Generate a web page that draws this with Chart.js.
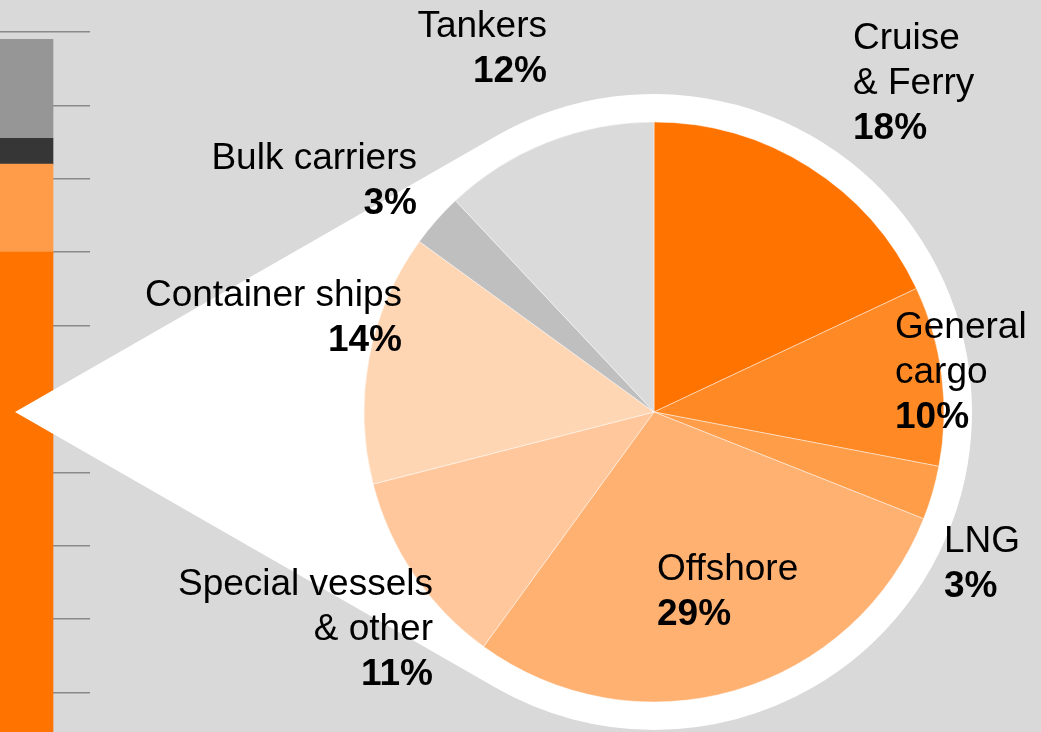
<!DOCTYPE html>
<html>
<head>
<meta charset="utf-8">
<script src="https://cdn.jsdelivr.net/npm/chart.js@4/dist/chart.umd.min.js"></script>
<style>
  html, body { margin: 0; padding: 0; background: #d9d9d9; overflow: hidden; }
  body { width: 1041px; height: 732px; position: relative; }
  #bar-chart { position: absolute; left: -37px; top: 0; }
  #pie-chart { position: absolute; left: 0; top: 0; }
</style>
</head>
<body>
<canvas id="bar-chart" width="127" height="766"></canvas>
<canvas id="pie-chart" width="1041" height="732"></canvas>
<script>
// stacked column (bottom to top)
const barSegments = ["Shipbuilding", "Repair", "Other", "Services"];
const barValues = [70, 12, 3.5, 13.5];
const barColors = ['#ff7300', '#ff9c4a', '#363636', '#969696'];

// pie breakdown, clockwise from 12 o'clock
const categories = [
    ['Cruise', '& Ferry'],
    ['General', 'cargo'],
    ['LNG'],
    ['Offshore'],
    ['Special vessels', '& other'],
    ['Container ships'],
    ['Bulk carriers'],
    ['Tankers']
];
const shares = [18, 10, 3, 29, 11, 14, 3, 12];
const sliceColors = ['#ff7300', '#ff8925', '#ff9d48', '#ffb172', '#ffc79b', '#ffd6b4', '#bfbfbf', '#dadada'];

// where each label sits: anchor x, first baseline, alignment
const labelSpots = [
    { x: 853, y: 49, align: 'left' },
    { x: 895, y: 338, align: 'left' },
    { x: 944, y: 552, align: 'left' },
    { x: 657, y: 580, align: 'left' },
    { x: 433, y: 595, align: 'right' },
    { x: 402, y: 306, align: 'right' },
    { x: 417, y: 169, align: 'right' },
    { x: 547, y: 37, align: 'right' }
];

const fontFamily = '"Liberation Sans", Arial, sans-serif';
const fontSize = 37;
const lineStep = 45;

new Chart(document.getElementById("bar-chart"), {
    type: 'bar',
    data: {
        labels: [''],
        datasets: barSegments.map((name, i) => ({
            label: name,
            data: [barValues[i]],
            backgroundColor: barColors[i],
            borderWidth: 0,
            barThickness: 53
        }))
    },
    options: {
        responsive: false,
        animation: false,
        layout: { padding: { top: 32, left: 0, right: 0, bottom: 0 } },
        plugins: { legend: { display: false }, tooltip: { enabled: false } },
        scales: {
            x: { stacked: true, display: false },
            y: {
                stacked: true,
                min: 0,
                max: 100,
                ticks: { display: false, stepSize: 10 },
                border: { display: false },
                grid: { color: '#8a8a8a', lineWidth: 1.5, drawTicks: false }
            }
        }
    }
});

// white ring around the pie plus the pointer towards the column
const calloutPlugin = {
    id: 'callout',
    beforeDatasetsDraw(chart) {
        const arc = chart.getDatasetMeta(0).data[0];
        if (!arc) return;
        const cx = arc.x, cy = arc.y;
        const R = arc.outerRadius + 28;
        const tipX = 15, tipY = cy;
        const d = cx - tipX;
        const a = Math.acos(R / d);
        const ctx = chart.ctx;
        ctx.save();
        ctx.fillStyle = '#ffffff';
        ctx.beginPath();
        ctx.moveTo(tipX, tipY);
        ctx.lineTo(cx + R * Math.cos(Math.PI + a), cy + R * Math.sin(Math.PI + a));
        ctx.arc(cx, cy, R, Math.PI + a, Math.PI - a);
        ctx.closePath();
        ctx.fill();
        ctx.restore();
    }
};

const labelPlugin = {
    id: 'sliceLabels',
    afterDatasetsDraw(chart) {
        const ctx = chart.ctx;
        ctx.save();
        ctx.fillStyle = '#000000';
        ctx.textBaseline = 'alphabetic';
        categories.forEach((lines, i) => {
            const spot = labelSpots[i];
            ctx.textAlign = spot.align;
            ctx.font = `${fontSize}px ${fontFamily}`;
            lines.forEach((line, j) => {
                ctx.fillText(line, spot.x, spot.y + j * lineStep);
            });
            ctx.font = `bold ${fontSize}px ${fontFamily}`;
            ctx.fillText(`${shares[i]}%`, spot.x, spot.y + lines.length * lineStep);
        });
        ctx.restore();
    }
};

new Chart(document.getElementById("pie-chart"), {
    type: 'pie',
    data: {
        labels: categories,
        datasets: [{
            data: shares,
            backgroundColor: sliceColors,
            borderColor: 'rgba(255,255,255,0.45)',
            borderWidth: 1,
            hoverOffset: 0
        }]
    },
    options: {
        responsive: false,
        animation: false,
        radius: 290,
        layout: { padding: { left: 340, right: 73, top: 100, bottom: 8 } },
        plugins: { legend: { display: false }, tooltip: { enabled: false } }
    },
    plugins: [calloutPlugin, labelPlugin]
});
</script>
</body>
</html>
